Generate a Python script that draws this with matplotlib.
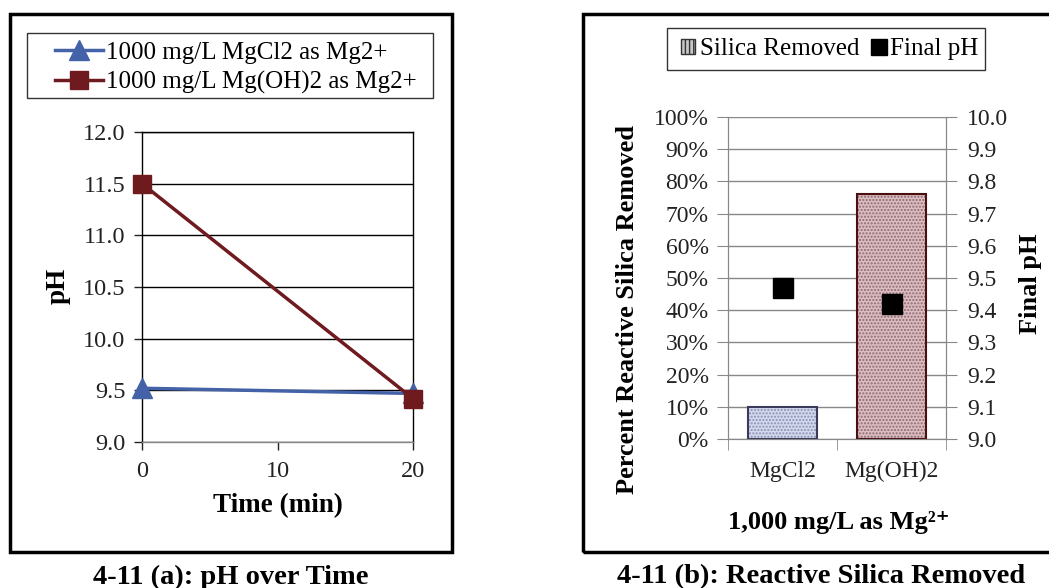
import numpy as np
import matplotlib
matplotlib.use("Agg")
import matplotlib.pyplot as plt
from matplotlib.patches import Rectangle, Patch
from matplotlib.lines import Line2D

plt.rcParams["font.family"] = ["Liberation Serif", "DejaVu Serif"]
plt.rcParams["hatch.linewidth"] = 1.0

# panel (a): pH over time
times = [0, 20]
ph_mgcl2 = [9.52, 9.47]
ph_mgoh2 = [11.5, 9.42]
label_mgcl2 = "1000 mg/L MgCl2 as Mg2+"
label_mgoh2 = "1000 mg/L Mg(OH)2 as Mg2+"

# panel (b): silica removed + final pH
categories = ["MgCl2", "Mg(OH)2"]
silica_removed = [10, 76]   # percent
final_ph = [9.47, 9.42]

W, H = 1049, 588
fig = plt.figure(figsize=(W / 100, H / 100), dpi=100)


def fx(px):
    return px / W


def fy(py):
    return 1 - py / H


def frame(x0, y0, x1, y1, lw, color="black"):
    # rectangle given in pixel coords (y measured from top)
    fig.patches.append(Rectangle((fx(x0), fy(y1)), fx(x1 - x0), (y1 - y0) / H,
                                 transform=fig.transFigure, fill=False,
                                 edgecolor=color, linewidth=lw, zorder=0))


# outer frames around the two panels
frame(10, 14, 452, 552, 2.5)
frame(583, 14, 1070, 552, 2.5)

# ---------------- panel (a) ----------------
ax1 = fig.add_axes([fx(142), fy(442), fx(413 - 142), (442 - 132) / H])
blue = "#4462a8"
red = "#6e1a1e"
ax1.plot(times, ph_mgcl2, color=blue, lw=2.5, marker="^", ms=14, label=label_mgcl2, zorder=3)
ax1.plot(times, ph_mgoh2, color=red, lw=2.5, marker="s", ms=13, label=label_mgoh2, zorder=4)
ax1.set_xlim(0, 20)
ax1.set_ylim(9.0, 12.0)
ax1.set_xticks([0, 10, 20])
ax1.set_yticks(np.arange(9.0, 12.01, 0.5))
ax1.set_yticklabels([f"{v:.1f}" for v in np.arange(9.0, 12.01, 0.5)])
ax1.grid(axis="y", color="black", lw=1)
ax1.tick_params(direction="out", length=6, width=1, labelsize=17.5, colors="#222222")
ax1.tick_params(axis="x", pad=8)
ax1.tick_params(axis="y", pad=6)
for s in ax1.spines.values():
    s.set_color("black")
    s.set_linewidth(1)
ax1.spines["bottom"].set_color("#888888")
ax1.set_xlabel("Time (min)", fontsize=19.5, fontweight="bold", labelpad=8)
fig.text(fx(58), fy(286), "pH", rotation=90, ha="center", va="center",
         fontsize=19.5, fontweight="bold")
for ln in ax1.lines:
    ln.set_clip_on(False)

fig.legend(handles=ax1.get_lines(), loc="center left",
           bbox_to_anchor=(fx(55), fy(68)), fontsize=18, frameon=False,
           handlelength=1.9, handletextpad=0.12, borderpad=0, labelspacing=0.28,
           borderaxespad=0)
frame(27, 33, 433, 98, 1.0, "#333333")

fig.text(fx(231), fy(577), "4-11 (a): pH over Time", ha="center", va="center",
         fontsize=20.5, fontweight="bold")

# ---------------- panel (b) ----------------
ax2 = fig.add_axes([fx(728), fy(439), fx(946 - 728), (439 - 117) / H])
x = np.arange(len(categories))
faces = ["#d4d8ee", "#dcbcc0"]
hatch_cols = ["#8890b0", "#8a6a70"]
edges = ["#3a3a5a", "#4a1010"]
ax2.bar(x, silica_removed, width=0.64, color=faces, edgecolor=hatch_cols,
        hatch=".....", linewidth=0, zorder=2)
ax2.bar(x, silica_removed, width=0.64, fill=False, edgecolor=edges, linewidth=1.5, zorder=3)
ax2.set_xlim(-0.5, 1.5)
ax2.set_ylim(0, 100)
ax2.set_yticks(np.arange(0, 101, 10))
ax2.set_yticklabels([f"{v}%" for v in range(0, 101, 10)])
ax2.set_xticks(x)
ax2.set_xticklabels(categories)
ax2.set_xticks([-0.5, 0.5, 1.5], minor=True)
ax2.tick_params(axis="x", which="major", length=0, pad=16, labelsize=17, labelcolor="#222222")
ax2.tick_params(axis="x", which="minor", length=8, color="#888888")
ax2.tick_params(axis="y", direction="out", length=8, color="#888888", labelsize=17,
                labelcolor="#222222", pad=6)
ax2.grid(axis="y", color="#888888", lw=1, zorder=0)
ax2.set_axisbelow(True)
for s in ax2.spines.values():
    s.set_color("#888888")
ax2.spines["top"].set_visible(False)
fig.text(fx(627), fy(310), "Percent Reactive Silica Removed", rotation=90,
         ha="center", va="center", fontsize=19, fontweight="bold")
fig.text(fx(839), fy(522), "1,000 mg/L as Mg²⁺", ha="center", va="center",
         fontsize=19, fontweight="bold")

ax3 = ax2.twinx()
ax3.plot(x, final_ph, ls="none", marker="s", ms=15, color="black", zorder=5)
ax3.set_ylim(9.0, 10.0)
ax3.set_yticks(np.arange(9.0, 10.01, 0.1))
ax3.set_yticklabels([f"{v:.1f}" for v in np.arange(9.0, 10.01, 0.1)])
ax3.tick_params(axis="y", direction="out", length=8, color="#888888", labelsize=17,
                labelcolor="#222222", pad=7)
for s in ax3.spines.values():
    s.set_color("#888888")
ax3.spines["top"].set_visible(False)
fig.text(fx(1030), fy(284), "Final pH", rotation=90, ha="center", va="center",
         fontsize=19, fontweight="bold")

leg_handles = [Patch(facecolor="#c8c8c8", edgecolor="#333333", hatch="||||"),
               Line2D([], [], ls="none", marker="s", ms=11, color="black")]
fig.legend(leg_handles, ["Silica Removed", "Final pH"], loc="center left",
           bbox_to_anchor=(fx(681), fy(49)), ncol=2, fontsize=18, frameon=False,
           handlelength=0.55, handleheight=0.55, handletextpad=0.2,
           columnspacing=0.5, borderpad=0, borderaxespad=0)
frame(667, 28, 985, 70, 1.0, "#333333")

fig.text(fx(821), fy(577), "4-11 (b): Reactive Silica Removed", ha="center", va="center",
         fontsize=20.5, fontweight="bold")

fig.savefig("out.png", dpi=100)
